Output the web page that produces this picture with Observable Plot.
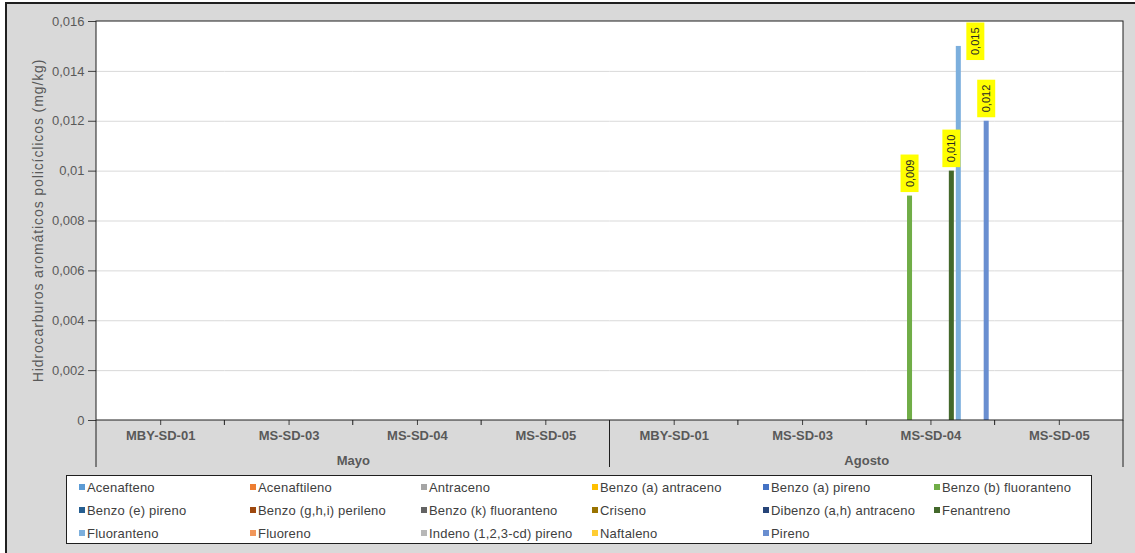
<!DOCTYPE html>
<html>
<head>
<meta charset="utf-8">
<script src="https://cdn.jsdelivr.net/npm/d3@7"></script>
<script src="https://cdn.jsdelivr.net/npm/@observablehq/plot@0.6"></script>
<style>
  body { margin: 0; background: #ffffff; font-family: "Liberation Sans", Arial, sans-serif; }
  #bg { position: absolute; left: 5px; top: 2px; width: 1130px; height: 551px; background: #d9d9d9; border-left: 2px solid #1f1f1f; border-top: 2px solid #1f1f1f; }
  #chart { position: absolute; left: 0; top: 0; }
  #legend { position: absolute; left: 66px; top: 475px; width: 1024px; height: 67px; background: #fff; border: 1px solid #1f1f1f; }
  .item { position: absolute; font-size: 13px; color: #404040; white-space: nowrap; line-height: 14px; letter-spacing: 0.2px; }
  .sw { display: inline-block; width: 6px; height: 6px; margin-right: 2px; vertical-align: 2px; }
</style>
</head>
<body>
<div id="bg"></div>
<div id="chart"></div>
<div id="legend"></div>
<script>
// ---- data ----
const groups = ["Mayo", "Agosto"];
const stations = ["MBY-SD-01", "MS-SD-03", "MS-SD-04", "MS-SD-05"];
const series = [
  "Acenafteno", "Acenaftileno", "Antraceno", "Benzo (a) antraceno", "Benzo (a) pireno",
  "Benzo (b) fluoranteno", "Benzo (e) pireno", "Benzo (g,h,i) perileno", "Benzo (k) fluoranteno",
  "Criseno", "Dibenzo (a,h) antraceno", "Fenantreno", "Fluoranteno", "Fluoreno",
  "Indeno (1,2,3-cd) pireno", "Naftaleno", "Pireno"
];
const colors = [
  "#5B9BD5", "#ED7D31", "#A5A5A5", "#FFC000", "#4472C4",
  "#70AD47", "#255E91", "#9E480E", "#636363",
  "#997300", "#264478", "#43682B", "#7CAFDD", "#F1975A",
  "#B7B7B7", "#FFCD33", "#698ED0"
];
// values per category: Mayo (4 stations) then Agosto (4 stations)
const benzoBFluoranteno = [0, 0, 0, 0, 0, 0, 0.009, 0];
const fenantreno        = [0, 0, 0, 0, 0, 0, 0.010, 0];
const fluoranteno       = [0, 0, 0, 0, 0, 0, 0.015, 0];
const pireno            = [0, 0, 0, 0, 0, 0, 0.012, 0];
const zeros             = [0, 0, 0, 0, 0, 0, 0, 0];
const seriesValues = {
  "Benzo (b) fluoranteno": benzoBFluoranteno,
  "Fenantreno": fenantreno,
  "Fluoranteno": fluoranteno,
  "Pireno": pireno
};
const yTicks = [0, 0.002, 0.004, 0.006, 0.008, 0.01, 0.012, 0.014, 0.016];
const yTitle = "Hidrocarburos aromáticos policíclicos (mg/kg)";

// ---- build table ----
const keys = [];
groups.forEach(g => stations.forEach(s => keys.push(g + "|" + s)));
const rows = [];
series.forEach(s => {
  const vals = seriesValues[s] || zeros;
  keys.forEach((k, i) => rows.push({key: k, series: s, value: vals[i]}));
});

const W = 1135, H = 475;
const mL = 96, mR = 12, mT = 21, mB = 55;
const yMax = 0.016;
const plotH = H - mT - mB;
const labelSpace = 42; // px needed above a bar for its label box
const fits = d => d.value * plotH / yMax + labelSpace <= plotH;
const fmtTick = v => v === 0 ? "0" : String(Math.round(v * 1000) / 1000).replace(".", ",");
const fmtLabel = v => v.toFixed(3).replace(".", ",");
const labeled = rows.filter(d => d.value > 0);
const groupLabels = groups.map(g => ({key: g + "|" + stations[1], label: g}));

const plot = Plot.plot({
  width: W, height: H,
  marginLeft: mL, marginRight: mR, marginTop: mT, marginBottom: mB,
  style: {background: "transparent", fontFamily: "'Liberation Sans', Arial, sans-serif", fontSize: "13px", color: "#595959", overflow: "visible"},
  fx: {domain: keys, padding: 0, label: null, axis: null, round: false},
  x: {domain: series, paddingInner: 0.28, paddingOuter: 0.85, axis: null, round: false},
  y: {domain: [0, yMax], axis: null},
  color: {domain: series, range: colors},
  marks: [
    Plot.gridY(yTicks.filter(t => t > 0 && t < yMax), {stroke: "#d9d9d9", strokeOpacity: 1}),
    Plot.axisY({ticks: yTicks, tickFormat: fmtTick, tickSize: 8, tickPadding: 4, fontSize: 13, stroke: "#404040", fill: "#595959", label: null, anchor: "left"}),
    Plot.axisFx({domain: keys, tickFormat: k => k.split("|")[1], tickSize: 5, tickPadding: 5, fontSize: 13, fontWeight: "bold", stroke: "#404040", fill: "#595959", label: null, anchor: "bottom"}),
    Plot.barY(rows, {fx: "key", x: "series", y: "value", fill: "series"}),
    Plot.text(labeled.filter(fits), {fx: "key", x: "series", y: "value", text: d => fmtLabel(d.value), rotate: -90, textAnchor: "start", lineAnchor: "middle", dy: -9, fontSize: 11, fill: "#262626"}),
    Plot.text(labeled.filter(d => !fits(d)), {fx: "key", x: "series", y: () => yMax, text: d => fmtLabel(d.value), rotate: -90, textAnchor: "end", lineAnchor: "middle", dy: 6, dx: 17, fontSize: 11, fill: "#262626"}),
    Plot.text(groupLabels, {fx: "key", text: "label", frameAnchor: "bottom-right", textAnchor: "middle", dy: 44, fontSize: 13, fontWeight: "bold", fill: "#595959"})
  ]
});
document.getElementById("chart").append(plot);

// ---- decorations: plot background, label boxes, frame, category separators ----
const svg = d3.select(plot);
const x0 = mL, x1 = W - mR, y0 = mT, y1 = H - mB;
svg.insert("rect", ":first-child").attr("x", x0).attr("y", y0).attr("width", x1 - x0).attr("height", y1 - y0).attr("fill", "#fff");

svg.selectAll("text").filter(function () {
  return (this.getAttribute("transform") || "").includes("rotate(-90");
}).each(function () {
  const b = this.getBBox();
  d3.select(this.parentNode).insert("rect", () => this)
    .attr("x", b.x - 5).attr("y", b.y - 3).attr("width", b.width + 10).attr("height", b.height + 6)
    .attr("transform", this.getAttribute("transform"))
    .attr("fill", "#ffff00");
});

svg.append("rect").attr("x", x0).attr("y", y0).attr("width", x1 - x0).attr("height", y1 - y0)
  .attr("fill", "none").attr("stroke", "#1f1f1f").attr("stroke-width", 1);

let fxs = null;
try { fxs = plot.scale("fx"); } catch (e) {}
const bw = fxs && fxs.bandwidth ? fxs.bandwidth : (x1 - x0) / keys.length;
const start = k => (fxs && fxs.apply) ? fxs.apply(k) : x0 + keys.indexOf(k) * bw;
keys.forEach((k, i) => {
  const xa = start(k);
  const long = i % stations.length === 0;
  svg.append("line").attr("x1", xa).attr("x2", xa).attr("y1", y1).attr("y2", long ? y1 + 47 : y1 + 5)
    .attr("stroke", "#1f1f1f").attr("stroke-width", 1);
});
svg.append("line").attr("x1", x1).attr("x2", x1).attr("y1", y1).attr("y2", y1 + 47).attr("stroke", "#1f1f1f");

svg.append("text").attr("transform", `translate(38,${(y0 + y1) / 2}) rotate(-90)`)
  .attr("text-anchor", "middle").attr("dy", "0.35em")
  .attr("font-size", 14).attr("letter-spacing", "0.9px").attr("fill", "#595959")
  .text(yTitle);

// ---- legend ----
const legend = document.getElementById("legend");
series.forEach((s, i) => {
  const col = i % 6, row = Math.floor(i / 6);
  const el = document.createElement("div");
  el.className = "item";
  el.style.left = (12 + col * 171) + "px";
  el.style.top = (5 + row * 23) + "px";
  el.innerHTML = `<span class="sw" style="background:${colors[i]}"></span>`;
  el.appendChild(document.createTextNode(s));
  legend.appendChild(el);
});
</script>
</body>
</html>
